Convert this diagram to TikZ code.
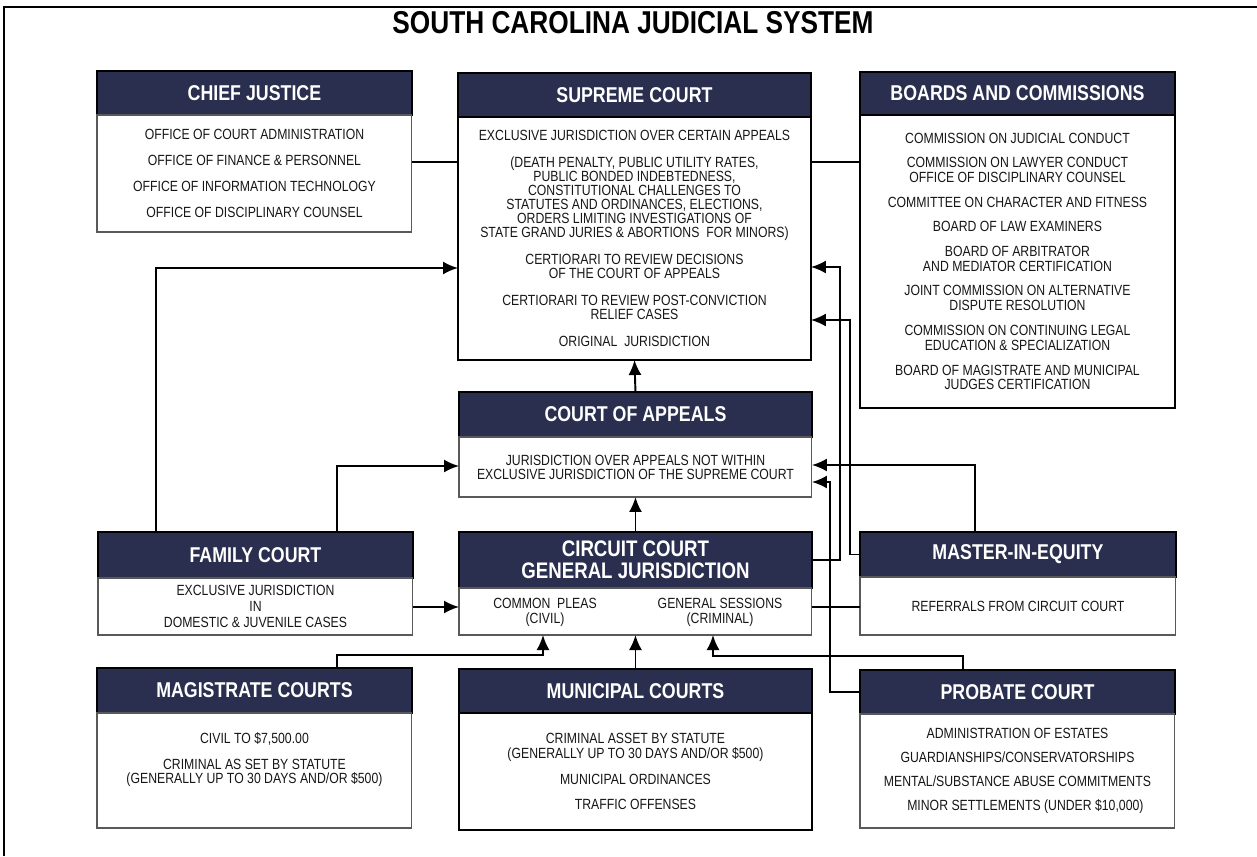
\documentclass[tikz,border=0pt]{standalone}
\usepackage{fontspec}
\setmainfont{Liberation Sans}[FakeStretch=0.83]
\usepackage{tikz}
\usetikzlibrary{arrows.meta}
\definecolor{courtblue}{HTML}{2A2F4F}
\definecolor{inkgray}{HTML}{161616}

\begin{document}
\begin{tikzpicture}[x=0.02cm,y=-0.02cm,
    head/.style={draw=black,fill=courtblue,text=white,anchor=north west,align=center,
        inner sep=0pt,outer sep=0pt,line width=0.8pt,font=\fontsize{12.2}{11.5}\selectfont\bfseries},
    body/.style={draw=gray!70!black,fill=white,anchor=north west,align=center,
        inner sep=0pt,outer sep=0pt,line width=0.6pt,text=inkgray,font=\fontsize{8.4}{8}\selectfont},
    cell/.style={align=center,inner sep=0pt,text=inkgray,font=\fontsize{8.4}{8.4}\selectfont},
    link/.style={line width=1.1pt},
    arr/.style={line width=1.1pt,-{Latex[length=3mm,width=2.6mm]}}]
    \useasboundingbox (0,0) rectangle (1257,856);

    % frame and title
    \draw[line width=1.2pt] (4,856) -- (4,7) -- (1257,7);
    \node[font=\fontsize{18}{18}\selectfont\bfseries] (title) at (633,23) {SOUTH CAROLINA JUDICIAL SYSTEM};

    % top row
    \node[head,minimum width=6.3cm,minimum height=0.88cm] (cjh) at (97,71) {CHIEF JUSTICE};
    \node[body,minimum width=6.3cm,minimum height=2.34cm] (cjb) at (97,115)
        {OFFICE OF COURT ADMINISTRATION\\[6.7pt]OFFICE OF FINANCE \& PERSONNEL\\[6.7pt]OFFICE OF INFORMATION TECHNOLOGY\\[6.7pt]OFFICE OF DISCIPLINARY COUNSEL};

    \node[head,minimum width=7.06cm,minimum height=0.88cm] (sch) at (458,73) {SUPREME COURT};
    \node[body,draw=black,line width=1.6pt,minimum width=7.06cm,minimum height=4.86cm] (scb) at (458,117)
        {EXCLUSIVE JURISDICTION OVER CERTAIN APPEALS\\[7.3pt]
         (DEATH PENALTY, PUBLIC UTILITY RATES,\\PUBLIC BONDED INDEBTEDNESS,\\CONSTITUTIONAL CHALLENGES TO\\
         STATUTES AND ORDINANCES, ELECTIONS,\\ORDERS LIMITING INVESTIGATIONS OF\\STATE GRAND JURIES \& ABORTIONS~ FOR MINORS)\\[7.3pt]
         CERTIORARI TO REVIEW DECISIONS\\OF THE COURT OF APPEALS\\[7.3pt]
         CERTIORARI TO REVIEW POST-CONVICTION\\RELIEF CASES\\[7.3pt]
         ORIGINAL~ JURISDICTION};

    \node[head,minimum width=6.3cm,minimum height=0.86cm] (bch) at (860,72) {BOARDS AND COMMISSIONS};
    \node[body,draw=black,line width=1pt,minimum width=6.3cm,minimum height=5.86cm,font=\fontsize{8.4}{8.5}\selectfont] (bcb) at (860,115)
        {COMMISSION ON JUDICIAL CONDUCT\\[5.5pt]
         COMMISSION ON LAWYER CONDUCT\\OFFICE OF DISCIPLINARY COUNSEL\\[5.5pt]
         COMMITTEE ON CHARACTER AND FITNESS\\[5.5pt]
         BOARD OF LAW EXAMINERS\\[5.5pt]
         BOARD OF ARBITRATOR\\AND MEDIATOR CERTIFICATION\\[5.5pt]
         JOINT COMMISSION ON ALTERNATIVE\\DISPUTE RESOLUTION\\[5.5pt]
         COMMISSION ON CONTINUING LEGAL\\EDUCATION \& SPECIALIZATION\\[5.5pt]
         BOARD OF MAGISTRATE AND MUNICIPAL\\JUDGES CERTIFICATION};

    % middle column
    \node[head,minimum width=7.06cm,minimum height=0.9cm] (cah) at (459,392) {COURT OF APPEALS};
    \node[body,minimum width=7.06cm,minimum height=1.2cm] (cab) at (459,437)
        {JURISDICTION OVER APPEALS NOT WITHIN\\EXCLUSIVE JURISDICTION OF THE SUPREME COURT};

    \node[head,minimum width=7.06cm,minimum height=1.12cm,font=\fontsize{12.8}{12.4}\selectfont\bfseries] (cch) at (459,532)
        {CIRCUIT COURT\\GENERAL JURISDICTION};
    \node[body,minimum width=7.06cm,minimum height=0.94cm] (ccb) at (459,588) {};
    \node[cell] (civ) at (545,612) {COMMON~ PLEAS\\(CIVIL)};
    \node[cell] (crim) at (720,612) {GENERAL SESSIONS\\(CRIMINAL)};

    % side courts
    \node[head,minimum width=6.3cm,minimum height=0.92cm] (fch) at (98,532) {FAMILY COURT};
    \node[body,minimum width=6.3cm,minimum height=1.14cm,font=\fontsize{8.4}{9}\selectfont] (fcb) at (98,578)
        {EXCLUSIVE JURISDICTION\\IN\\DOMESTIC \& JUVENILE CASES};

    \node[head,minimum width=6.32cm,minimum height=0.9cm] (meh) at (860,532) {MASTER-IN-EQUITY};
    \node[body,minimum width=6.32cm,minimum height=1.16cm] (meb) at (860,577) {REFERRALS FROM CIRCUIT COURT};

    % bottom row
    \node[head,minimum width=6.3cm,minimum height=0.9cm] (mgh) at (97,668) {MAGISTRATE COURTS};
    \node[body,minimum width=6.3cm,minimum height=2.3cm,text depth=14pt] (mgb) at (97,713)
        {CIVIL TO \$7,500.00\\[7pt]CRIMINAL AS SET BY STATUTE\\(GENERALLY UP TO 30 DAYS AND/OR \$500)};

    \node[head,minimum width=7.06cm,minimum height=0.88cm] (muh) at (459,669) {MUNICIPAL COURTS};
    \node[body,draw=black,line width=0.9pt,minimum width=7.06cm,minimum height=2.34cm,font=\fontsize{8.4}{8.5}\selectfont] (mub) at (459,713)
        {CRIMINAL ASSET BY STATUTE\\(GENERALLY UP TO 30 DAYS AND/OR \$500)\\[5.8pt]MUNICIPAL ORDINANCES\\[5.8pt]TRAFFIC OFFENSES};

    \node[head,minimum width=6.3cm,minimum height=0.88cm] (pbh) at (860,670) {PROBATE COURT};
    \node[body,minimum width=6.3cm,minimum height=2.28cm] (pbb) at (860,714)
        {ADMINISTRATION OF ESTATES\\[5.6pt]GUARDIANSHIPS/CONSERVATORSHIPS\\[5.6pt]MENTAL/SUBSTANCE ABUSE COMMITMENTS\\[5.6pt]\hspace*{9pt}MINOR SETTLEMENTS (UNDER \$10,000)};

    % plain links
    \draw[link] (cjb.east |- 0,162) -- (scb.west |- 0,162);
    \draw[link] (scb.east |- 0,162) -- (bcb.west |- 0,162);
    \draw[link] (ccb.east |- 0,607) -- (meb.west |- 0,607);

    % appeals
    \draw[arr] (cah.north) -- (scb.south);
    \draw[arr] (cch.north) -- (cab.south);
    \draw[arr] (muh.north) -- (ccb.south);
    \draw[arr] (fch.north -| 156,0) |- (scb.west |- 0,268);
    \draw[arr] (fch.north -| 337,0) |- (cab.west |- 0,466);
    \draw[arr] (fcb.east |- 0,607) -- (ccb.west |- 0,607);
    \draw[arr] (cch.east) -- ++(28,0) |- (scb.east |- 0,267);
    \draw[arr] (meh.west) -- ++(-10,0) |- (scb.east |- 0,320);
    \draw[arr] (meh.north -| 975,0) |- (cab.east |- 0,465);
    \draw[arr] (pbh.west) -- (830,0 |- pbh.west) |- (cab.east |- 0,482);
    \draw[arr] (pbh.north -| 963,0) -- (963,656) -| (ccb.south -| 713,0);
    \draw[arr] (mgh.north -| 337,0) -- (337,655) -| (ccb.south -| 543,0);
\end{tikzpicture}
\end{document}
